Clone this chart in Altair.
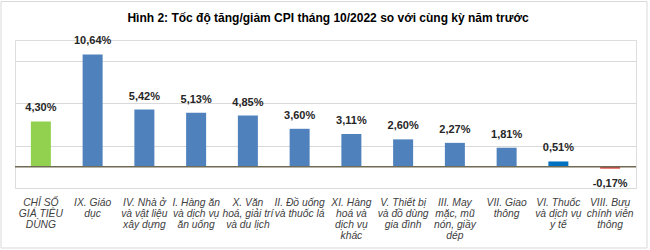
import altair as alt
import pandas as pd

title_text = "Hình 2: Tốc độ tăng/giảm CPI tháng 10/2022 so với cùng kỳ năm trước"
categories = [
    "CHỈ SỐ\nGIÁ TIÊU\nDÙNG",
    "IX. Giáo\ndục",
    "IV. Nhà ở\nvà vật liệu\nxây dựng",
    "I. Hàng ăn\nvà dịch vụ\năn uống",
    "X. Văn\nhoá, giải trí\nvà du lịch",
    "II. Đồ uống\nvà thuốc lá",
    "XI. Hàng\nhoá và\ndịch vụ\nkhác",
    "V. Thiết bị\nvà đồ dùng\ngia đình",
    "III. May\nmặc, mũ\nnón, giầy\ndép",
    "VII. Giao\nthông",
    "VI. Thuốc\nvà dịch vụ\ny tế",
    "VIII. Bưu\nchính viễn\nthông",
]
values = [4.30, 10.64, 5.42, 5.13, 4.85, 3.60, 3.11, 2.60, 2.27, 1.81, 0.51, -0.17]
colors = ["#92D050", "#4F81BD", "#4F81BD", "#4F81BD", "#4F81BD", "#4F81BD",
          "#4F81BD", "#4F81BD", "#4F81BD", "#4F81BD", "#0070C0", "#E0403C"]

df = pd.DataFrame({
    "cat": categories,
    "value": values,
    "color": colors,
    "label": [f"{v:.2f}".replace(".", ",") + "%" for v in values],
})

W, H = 621, 148

xenc = alt.X("cat:N", sort=categories, title=None,
             axis=alt.Axis(labelAngle=0, labelExpr="split(datum.label, '\\n')",
                           labelFont="Liberation Sans", labelFontStyle="italic",
                           labelFontSize=10.3, labelColor="#404040", labelLineHeight=11,
                           labelPadding=9, ticks=False, domain=False, grid=False,
                           labelLimit=0, labelBaseline="top"))
yscale = alt.Scale(domain=[-2, 12], nice=False, zero=False)
yenc = alt.Y("value:Q", scale=yscale, title=None,
             axis=alt.Axis(values=[-2, 0, 2, 4, 6, 8, 10, 12], labels=False, ticks=False,
                           domain=False, grid=True, gridColor="#D9D9D9", gridWidth=1))

base = alt.Chart(df)

bars = base.mark_bar(size=20).encode(
    x=xenc, y=yenc, y2=alt.datum(0),
    color=alt.Color("color:N", scale=None),
)

pos = base.transform_filter("datum.value >= 0").mark_text(
    dy=-8, baseline="bottom", font="Liberation Sans", fontWeight="bold",
    fontSize=11, color="#262626"
).encode(x=alt.X("cat:N", sort=categories), y=alt.Y("value:Q", scale=yscale), text="label:N")

neg = base.transform_filter("datum.value < 0").mark_text(
    dy=9, baseline="top", font="Liberation Sans", fontWeight="bold",
    fontSize=11, color="#262626"
).encode(x=alt.X("cat:N", sort=categories), y=alt.Y("value:Q", scale=yscale), text="label:N")

zero = alt.Chart(pd.DataFrame({"z": [0]})).mark_rule(color="#6F6B55", strokeWidth=1.5).encode(
    y=alt.Y("z:Q", scale=yscale)
)

border = alt.Chart(pd.DataFrame({"a": [0]})).mark_rect(
    fill=None, stroke="#D9D9D9", strokeWidth=1
).encode(x=alt.value(-14), x2=alt.value(632), y=alt.value(-38.5), y2=alt.value(208))

title = alt.Chart(pd.DataFrame({"t": [title_text]})).mark_text(
    font="Liberation Sans", fontSize=12, fontWeight="bold", color="#000000",
    align="center", baseline="middle"
).encode(text="t:N", x=alt.value(313), y=alt.value(-22))

chart = alt.layer(bars, zero, pos, neg, border, title).properties(
    width=W, height=H,
    autosize=alt.AutoSizeParams(type="none"),
    padding={"left": 15, "top": 40, "right": 14, "bottom": 62},
).configure_view(stroke=None).configure(background="white")

chart.save("out.html", embed_options={"renderer": "svg", "actions": False})
